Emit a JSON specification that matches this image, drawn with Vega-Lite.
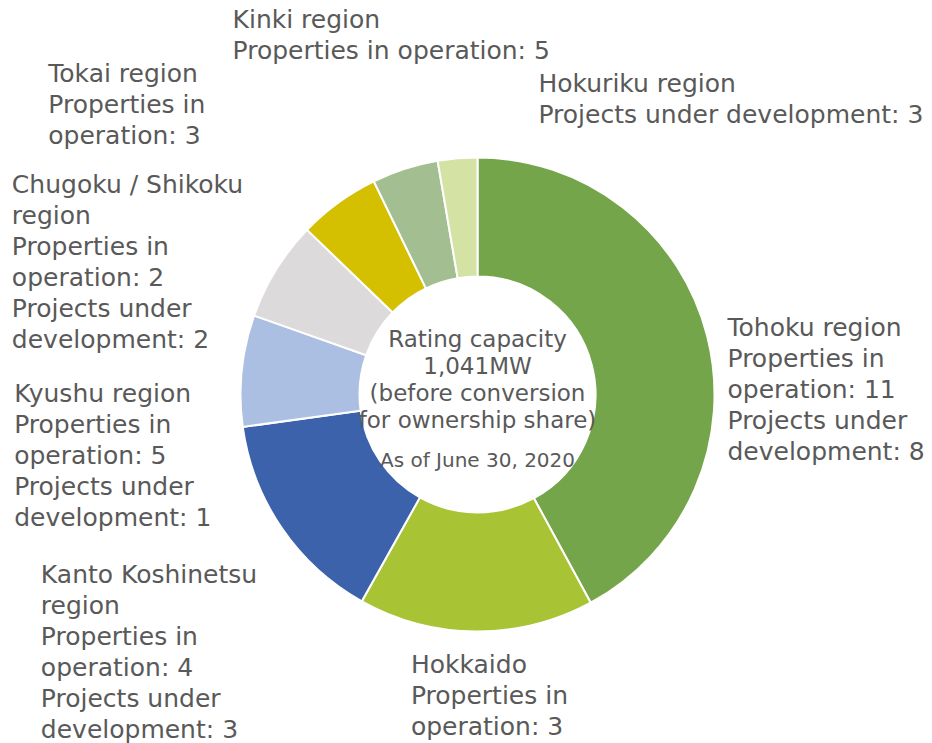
{
  "$schema": "https://vega.github.io/schema/vega-lite/v6.json",
  "width": 909,
  "height": 697,
  "autosize": {"type": "none"},
  "padding": {"left": 23, "top": 46, "right": 0, "bottom": 0},
  "background": "white",
  "config": {
    "view": {"stroke": null},
    "text": {"font": "DejaVu Sans", "fontSize": 25, "lineHeight": 31, "lineBreak": "\n", "align": "left", "baseline": "alphabetic", "color": "#595959"}
  },
  "datasets": {
    "regions": [
      {"idx": 1, "region": "Tohoku", "capacity_mw": 438, "label": "Tohoku region\nProperties in\noperation: 11\nProjects under\ndevelopment: 8"},
      {"idx": 2, "region": "Hokkaido", "capacity_mw": 167, "label": "Hokkaido\nProperties in\noperation: 3"},
      {"idx": 3, "region": "Kanto Koshinetsu", "capacity_mw": 153, "label": "Kanto Koshinetsu\nregion\nProperties in\noperation: 4\nProjects under\ndevelopment: 3"},
      {"idx": 4, "region": "Kyushu", "capacity_mw": 79, "label": "Kyushu region\nProperties in\noperation: 5\nProjects under\ndevelopment: 1"},
      {"idx": 5, "region": "Chugoku / Shikoku", "capacity_mw": 71, "label": "Chugoku / Shikoku\nregion\nProperties in\noperation: 2\nProjects under\ndevelopment: 2"},
      {"idx": 6, "region": "Tokai", "capacity_mw": 58, "label": "Tokai region\nProperties in\noperation: 3"},
      {"idx": 7, "region": "Kinki", "capacity_mw": 47, "label": "Kinki region\nProperties in operation: 5"},
      {"idx": 8, "region": "Hokuriku", "capacity_mw": 28, "label": "Hokuriku region\nProjects under development: 3"}
    ],
    "center": [
      {"caption": "Rating capacity\n1,041MW\n(before conversion\nfor ownership share)", "asof": "As of June 30, 2020"}
    ]
  },
  "layer": [
    {
      "data": {"name": "regions"},
      "transform": [{"stack": "capacity_mw", "groupby": [], "sort": [{"field": "idx", "order": "ascending"}], "as": ["mw_start", "mw_end"]}],
      "mark": {"type": "arc", "innerRadius": 118, "outerRadius": 237, "stroke": "white", "strokeWidth": 2},
      "encoding": {
        "theta": {"field": "mw_end", "type": "quantitative", "stack": null},
        "theta2": {"field": "mw_start"},
        "color": {
          "field": "region", "type": "nominal", "legend": null,
          "scale": {
            "domain": ["Tohoku", "Hokkaido", "Kanto Koshinetsu", "Kyushu", "Chugoku / Shikoku", "Tokai", "Kinki", "Hokuriku"],
            "range": ["#75A54A", "#A8C334", "#3C62AC", "#ABBFE2", "#DCDADA", "#D4C000", "#A3BF91", "#D4E2A4"]
          }
        }
      }
    },
    {
      "data": {"name": "regions"},
      "transform": [{"stack": "capacity_mw", "groupby": [], "sort": [{"field": "idx", "order": "ascending"}], "as": ["mw_start", "mw_end"]}, {"filter": {"field": "region", "equal": "Tohoku"}}],
      "mark": {"type": "text", "radius": 250, "dx": 250, "dy": 191.5},
      "encoding": {"theta": {"field": "mw_start", "type": "quantitative", "stack": null}, "text": {"field": "label"}}
    },
    {
      "data": {"name": "regions"},
      "transform": [{"stack": "capacity_mw", "groupby": [], "sort": [{"field": "idx", "order": "ascending"}], "as": ["mw_start", "mw_end"]}, {"filter": {"field": "region", "equal": "Hokkaido"}}],
      "mark": {"type": "text", "radius": 250, "dx": -186, "dy": 59},
      "encoding": {"theta": {"field": "mw_start", "type": "quantitative", "stack": null}, "text": {"field": "label"}}
    },
    {
      "data": {"name": "regions"},
      "transform": [{"stack": "capacity_mw", "groupby": [], "sort": [{"field": "idx", "order": "ascending"}], "as": ["mw_start", "mw_end"]}, {"filter": {"field": "region", "equal": "Kanto Koshinetsu"}}],
      "mark": {"type": "text", "radius": 250, "dx": -314.6, "dy": -29.4},
      "encoding": {"theta": {"field": "mw_start", "type": "quantitative", "stack": null}, "text": {"field": "label"}}
    },
    {
      "data": {"name": "regions"},
      "transform": [{"stack": "capacity_mw", "groupby": [], "sort": [{"field": "idx", "order": "ascending"}], "as": ["mw_start", "mw_end"]}, {"filter": {"field": "region", "equal": "Kyushu"}}],
      "mark": {"type": "text", "radius": 250, "dx": -215.7, "dy": -27},
      "encoding": {"theta": {"field": "mw_start", "type": "quantitative", "stack": null}, "text": {"field": "label"}}
    },
    {
      "data": {"name": "regions"},
      "transform": [{"stack": "capacity_mw", "groupby": [], "sort": [{"field": "idx", "order": "ascending"}], "as": ["mw_start", "mw_end"]}, {"filter": {"field": "region", "equal": "Chugoku / Shikoku"}}],
      "mark": {"type": "text", "radius": 250, "dx": -229.9, "dy": -118},
      "encoding": {"theta": {"field": "mw_start", "type": "quantitative", "stack": null}, "text": {"field": "label"}}
    },
    {
      "data": {"name": "regions"},
      "transform": [{"stack": "capacity_mw", "groupby": [], "sort": [{"field": "idx", "order": "ascending"}], "as": ["mw_start", "mw_end"]}, {"filter": {"field": "region", "equal": "Tokai"}}],
      "mark": {"type": "text", "radius": 250, "dx": -249.4, "dy": -138.5},
      "encoding": {"theta": {"field": "mw_start", "type": "quantitative", "stack": null}, "text": {"field": "label"}}
    },
    {
      "data": {"name": "regions"},
      "transform": [{"stack": "capacity_mw", "groupby": [], "sort": [{"field": "idx", "order": "ascending"}], "as": ["mw_start", "mw_end"]}, {"filter": {"field": "region", "equal": "Kinki"}}],
      "mark": {"type": "text", "radius": 250, "dx": -135.6, "dy": -141.4},
      "encoding": {"theta": {"field": "mw_start", "type": "quantitative", "stack": null}, "text": {"field": "label"}}
    },
    {
      "data": {"name": "regions"},
      "transform": [{"stack": "capacity_mw", "groupby": [], "sort": [{"field": "idx", "order": "ascending"}], "as": ["mw_start", "mw_end"]}, {"filter": {"field": "region", "equal": "Hokuriku"}}],
      "mark": {"type": "text", "radius": 250, "dx": 103, "dy": -56.4},
      "encoding": {"theta": {"field": "mw_start", "type": "quantitative", "stack": null}, "text": {"field": "label"}}
    },
    {
      "data": {"name": "center"},
      "mark": {"type": "text", "align": "center", "fontSize": 23, "lineHeight": 27.2, "dy": -47.8},
      "encoding": {"text": {"field": "caption"}}
    },
    {
      "data": {"name": "center"},
      "mark": {"type": "text", "align": "center", "fontSize": 20, "dy": 72.8},
      "encoding": {"text": {"field": "asof"}}
    }
  ]
}
